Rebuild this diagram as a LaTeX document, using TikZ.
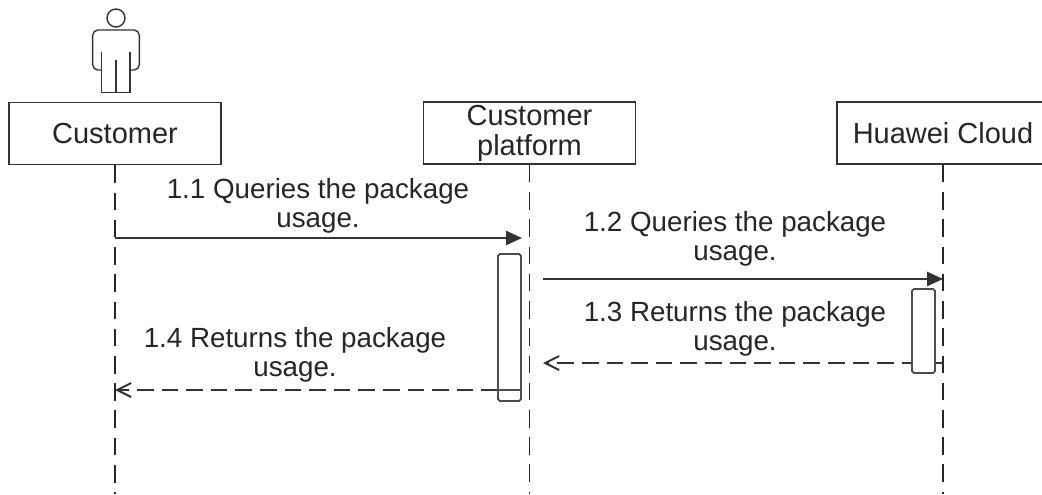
\documentclass[tikz,border=0pt]{standalone}
\usepackage{fontspec}
\setmainfont{Liberation Sans}
\usetikzlibrary{arrows.meta}

\tikzset{
  lane/.style={draw=black!80, line width=1pt, minimum width=4.24cm, minimum height=1.24cm,
    align=center, inner sep=0pt, font=\fontsize{16.5}{17.2}\selectfont, text=black!85},
  act/.style={draw=black!70, fill=white, line width=1pt, rounded corners=1pt,
    minimum width=0.46cm, inner sep=0pt},
  life/.style={draw=black!85, line width=1.1pt, dash pattern=on 10pt off 5.5pt},
  call/.style={draw=black!80, line width=1.1pt, -{Triangle[length=9pt,width=8pt]}},
  back/.style={draw=black!80, line width=1.1pt, dash pattern=on 9.5pt off 4.5pt,
    -{Straight Barb[length=8pt,width=8pt]}},
  msg/.style={align=center, inner sep=0pt, font=\fontsize{15.8}{16.5}\selectfont, text=black!85},
  man/.style={draw=black!80, line width=0.8pt}
}

\begin{document}
\begin{tikzpicture}[x=0.02cm, y=-0.02cm]
		\useasboundingbox (0,0) rectangle (1042,494);
		\clip (0,0) rectangle (1042,494);
		%
		\node[man, circle, minimum size=0.36cm, inner sep=0pt] (head) at (116,18) {};
		\draw[man, rounded corners=3pt] (101.7,70) -- (92.7,70) -- (92.7,30) -- (139.3,30) -- (139.3,70) -- (130,70);
		\draw[man] (101.7,51.7) -- (101.7,92.7) -- (130,92.7) -- (130,51.7);
		\draw[man] (116,60) -- (116,92.7);
		%
		\node[lane] (cust) at (115,133.5) {Customer};
		\node[lane] (plat) at (529.5,133) {Customer\\platform};
		\node[lane] (cloud) at (943,133) {Huawei Cloud};
		\coordinate (bot) at (0,494);
		\draw[life] (cust.south) -- (cust.south |- bot);
		\draw[life] (plat.south) -- (plat.south |- bot);
		\draw[life] (cloud.south) -- (cloud.south |- bot);
		%
		\coordinate (m1a) at (115,238);
		\coordinate (m1b) at (522,238);
		\coordinate (m2a) at (543,279);
		\coordinate (m2b) at (943,279);
		\coordinate (m3a) at (943,363);
		\coordinate (m3b) at (543,363);
		\coordinate (m4a) at (498,390);
		\coordinate (m4b) at (115,390);
		%
		\draw[call] (m1a) -- (m1b);
		\draw[call] (m2a) -- (m2b);
		\draw[back] (m3a) -- (m3b);
		\draw[back] (m4a) -- (m4b);
		%
		\node[act, minimum height=2.94cm] (act1) at (509.5,327.5) {};
		\node[act, minimum height=1.68cm] (act2) at (923.5,331) {};
		\draw[draw=black!70, line width=1pt] (act1.west |- m4a) -- (act1.east |- m4a);
		%
		\node[msg] (l1) at (318,205.5) {1.1 Queries the package\\usage.};
		\node[msg] (l2) at (735,239) {1.2 Queries the package\\usage.};
		\node[msg] (l3) at (735,329) {1.3 Returns the package\\usage.};
		\node[msg] (l4) at (295,355) {1.4 Returns the package\\usage.};
\end{tikzpicture}
\end{document}
